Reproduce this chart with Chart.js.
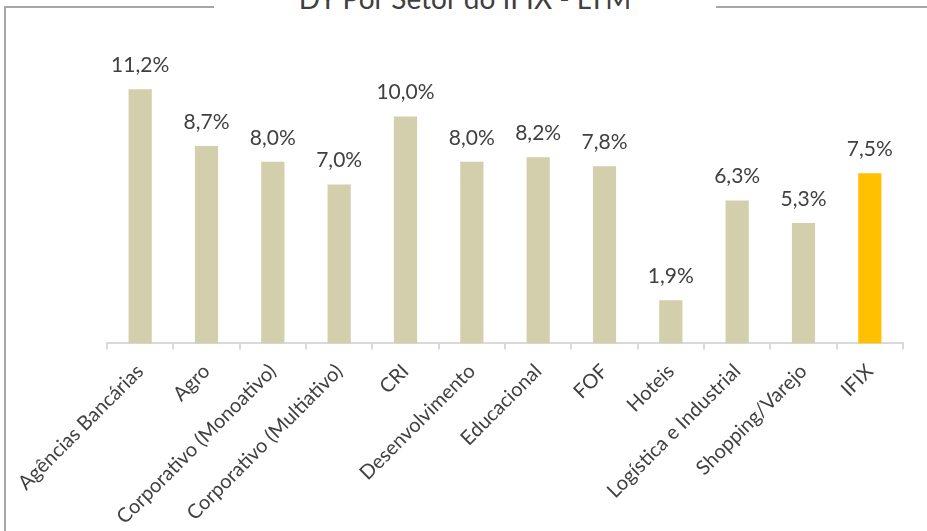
<!DOCTYPE html>
<html>
<head>
<meta charset="utf-8">
<script src="https://cdn.jsdelivr.net/npm/chart.js@4"></script>
<style>
    html, body { margin: 0; padding: 0; background: #fff; overflow: hidden; }
    #wrap { position: relative; width: 927px; height: 531px; overflow: hidden; }
    .frame {
        position: absolute; left: 4px; top: 6px; width: 940px; height: 600px;
        border-left: 2px solid #a6a6a6; border-top: 2px solid #a6a6a6;
    }
    .title {
        position: absolute; left: 214px; top: -18px; width: 502px;
        background: #fff; text-align: center;
        font-family: Lato, sans-serif; font-size: 28px; color: #404040;
        line-height: 32px;
    }
    canvas { position: absolute; left: 0; top: 0; }
</style>
</head>
<body>
<div id="wrap">
    <div class="frame"></div>
    <div class="title">DY Por Setor do IFIX - LTM</div>
    <canvas id="chart" width="927" height="560"></canvas>
</div>
<script>
// ===== DY por setor (IFIX, LTM) =====

const categories = [
    'Agências Bancárias', 'Agro', 'Corporativo (Monoativo)', 'Corporativo (Multiativo)',
    'CRI', 'Desenvolvimento', 'Educacional', 'FOF', 'Hoteis',
    'Logística e Industrial', 'Shopping/Varejo', 'IFIX'
];
const dyValues = [11.2, 8.7, 8.0, 7.0, 10.0, 8.0, 8.2, 7.8, 1.9, 6.3, 5.3, 7.5];
const highlightCategory = 'IFIX';

const BAR = '#d3ceab';
const HIGHLIGHT = '#ffc000';
const TEXT = '#404040';
const FONT = 'Lato, sans-serif';

// value labels above bars (no datalabels plugin available offline)
const valueLabels = {
    id: 'valueLabels',
    afterDatasetsDraw(chart) {
        const ctx = chart.ctx;
        const meta = chart.getDatasetMeta(0);
        ctx.save();
        ctx.font = '21px ' + FONT;
        ctx.fillStyle = TEXT;
        ctx.textAlign = 'center';
        ctx.textBaseline = 'middle';
        meta.data.forEach((bar, i) => {
            const txt = dyValues[i].toFixed(1).replace('.', ',') + '%';
            ctx.fillText(txt, bar.x, bar.y - 24);
        });
        ctx.restore();
    }
};

new Chart(document.getElementById('chart').getContext('2d'), {
    type: 'bar',
    data: {
        labels: categories,
        datasets: [{
            data: dyValues,
            backgroundColor: ctx => categories[ctx.dataIndex] === highlightCategory ? HIGHLIGHT : BAR,
            barPercentage: 0.35,
            categoryPercentage: 1
        }]
    },
    options: {
        responsive: false,
        animation: false,
        layout: { padding: { left: 107, right: 24, top: 71, bottom: 21 } },
        plugins: {
            legend: { display: false },
            tooltip: { enabled: false }
        },
        scales: {
            x: {
                grid: {
                    offset: true,
                    drawOnChartArea: false,
                    tickLength: 6,
                    color: '#d9d9d9',
                    lineWidth: 2
                },
                border: { color: '#d9d9d9', width: 2 },
                ticks: {
                    color: TEXT,
                    font: { family: FONT, size: 20 },
                    minRotation: 45,
                    maxRotation: 45,
                    padding: 10
                }
            },
            y: {
                display: false,
                min: 0,
                max: 12
            }
        }
    },
    plugins: [valueLabels]
});
</script>
</body>
</html>
